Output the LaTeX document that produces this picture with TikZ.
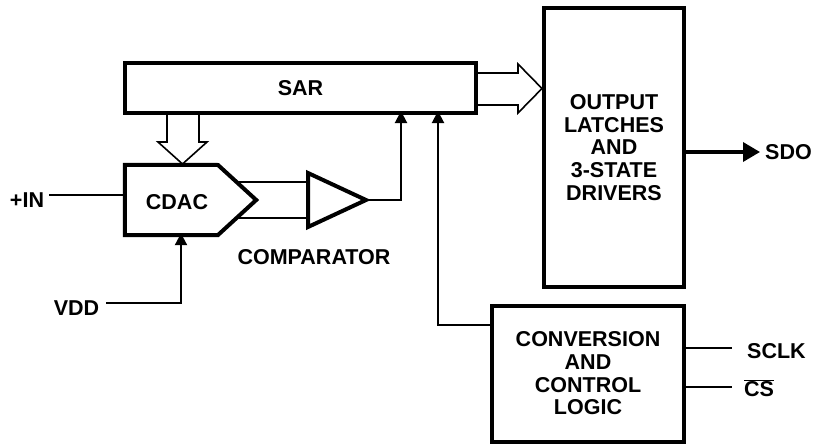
\documentclass[tikz,border=0pt]{standalone}
\usepackage{fontspec}
\setmainfont{Liberation Sans}
\usetikzlibrary{arrows.meta}
\tikzset{
  lbl/.style={font=\fontsize{21.5}{22.7}\selectfont\bfseries, inner sep=0pt, align=center},
  blk/.style={draw, line width=4pt, inner sep=0pt, align=center, font=\fontsize{21.5}{22.7}\selectfont\bfseries},
  wire/.style={line width=2pt},
  sig/.style={line width=2pt, -{Triangle[length=12pt,width=12pt]}},
  hollow/.style={draw, fill=white, line width=1.6pt, line join=miter},
}
\begin{document}
\begin{tikzpicture}[x=1pt,y=-1pt]
\useasboundingbox (0,0) rectangle (814,444);
% blocks
\node[blk, minimum width=351pt, minimum height=50pt] (sar) at (300.5,88) {SAR};
\node[blk, minimum width=140pt, minimum height=279pt] (out) at (614,147.5) {OUTPUT\\LATCHES\\AND\\3-STATE\\DRIVERS};
\node[blk, minimum width=192pt, minimum height=136pt] (conv) at (588,373.5) {CONVERSION\\AND\\CONTROL\\LOGIC};
% CDAC
\node[inner sep=0pt, minimum width=131pt, minimum height=70pt] (cdac) at (190.5,200) {};
\draw[line width=4pt, line join=miter] (cdac.north west) -- (218,165) -- (cdac.east) -- (218,235) -- (cdac.south west) -- cycle;
\node[lbl] (cdaclbl) at (177,202) {CDAC};
% comparator
\coordinate (cmpin1) at (308,182);
\coordinate (cmpin2) at (308,218);
\coordinate (cmpout) at (366,200);
\draw[line width=4pt, line join=miter] (308,173) -- (308,227) -- (cmpout) -- cycle;
\node[lbl] (cmplbl) at (314,257) {COMPARATOR};
\draw[wire] (236.5,182) -- (cmpin1);
\draw[wire] (236.5,218) -- (cmpin2);
% comparator to SAR
\coordinate (sarin1) at (401,113);
\coordinate (sarin2) at (438,113);
\draw[sig] (cmpout) -- (401,200) -- ([yshift=2pt]sarin1);
% conversion to SAR
\draw[sig] (conv.west |- 0,325) -- (438,325) -- ([yshift=2pt]sarin2);
% hollow arrow SAR -> CDAC
\draw[hollow] (167,115) -- (167,142) -- (158,142) -- (182.5,164) -- (207,142) -- (199,142) -- (199,115);
% hollow arrow SAR -> OUT
\draw[hollow] (478,73) -- (518,73) -- (518,64) -- (542,88.5) -- (518,113) -- (518,105) -- (478,105);
% inputs
\node[lbl, anchor=center] (in) at (27,200) {+IN};
\draw[wire] (49,195) -- (cdac.west |- 0,195);
\node[lbl] (vdd) at (76.5,308) {VDD};
\draw[sig] (106,303) -- (181,303) -- ([yshift=2pt]cdac.south -| 181,0);
% SDO
\node[lbl, anchor=east] (sdo) at (812,152) {SDO};
\draw[line width=3.5pt, -{Triangle[length=17pt,width=19pt]}] (out.east |- 0,152) -- ([xshift=-5pt]sdo.west);
% SCLK, CS
\node[lbl, anchor=west] (sclk) at (747,351) {SCLK};
\node[lbl, anchor=west] (cs) at (744,388) {$\overline{\mbox{CS}}$};
\draw[wire] (conv.east |- 0,348) -- (732,348);
\draw[wire] (conv.east |- 0,387) -- (732,387);
\end{tikzpicture}
\end{document}
